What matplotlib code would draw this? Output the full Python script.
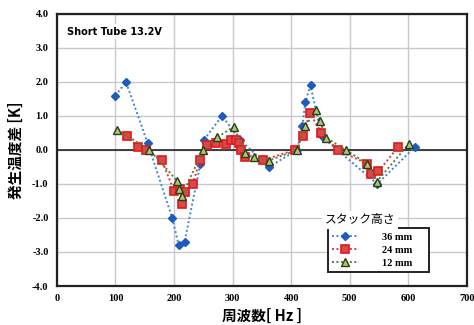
import matplotlib
matplotlib.use("Agg")
import matplotlib.pyplot as plt
import numpy as np

# 36 mm
f36 = [100, 118, 155, 197, 208, 218, 245, 251, 282, 313, 362, 410, 419, 424, 433, 452, 547, 612]
t36 = [1.6, 2.0, 0.2, -2.0, -2.8, -2.7, -0.4, 0.3, 1.0, 0.3, -0.5, 0.0, 0.7, 1.4, 1.9, 0.4, -1.0, 0.1]
# 24 mm
f24 = [119, 138, 153, 179, 200, 210, 214, 219, 232, 244, 256, 272, 288, 297, 305, 311, 315, 322,
       352, 406, 420, 432, 451, 480, 529, 537, 549, 583]
t24 = [0.4, 0.1, 0.0, -0.3, -1.2, -1.15, -1.6, -1.25, -1.0, -0.3, 0.15, 0.22, 0.18, 0.3, 0.3, 0.2, 0.0, -0.2,
       -0.3, 0.0, 0.4, 1.1, 0.5, 0.0, -0.4, -0.7, -0.63, 0.1]
# 12 mm
f12 = [103, 158, 205, 209, 213, 250, 274, 302, 321, 336, 362, 410, 424, 443, 449, 460, 493, 530, 546, 601]
t12 = [0.6, 0.0, -0.9, -1.15, -1.35, 0.0, 0.37, 0.69, -0.1, -0.22, -0.31, 0.0, 0.7, 1.18, 0.86, 0.36, 0.0, -0.4, -0.93, 0.18]

xticks = [0, 100, 200, 300, 400, 500, 600, 700]
yticks = [-4, -3, -2, -1, 0, 1, 2, 3, 4]

fig = plt.figure(figsize=(4.74, 3.25), dpi=100)
ax = fig.add_axes([0.120, 0.12, 0.865, 0.837])

ax.plot(f36, t36, linestyle=(0, (1, 1.3)), color="#3a86d6", lw=1.4, marker="D", ms=4.0,
        mfc="#1f5bbf", mec="#1f5bbf", label="36 mm", zorder=3)
ax.plot(f24, t24, linestyle=(0, (1, 1.3)), color="#e03838", lw=1.4, marker="s", ms=5.2,
        mfc="#d84a4a", mec="#e01a1a", mew=1.2, label="24 mm", zorder=4)
ax.plot(f12, t12, linestyle=(0, (1, 1.3)), color="#5a7a40", lw=1.4, marker="^", ms=5.2,
        mfc="#a8c878", mec="#2e3a18", mew=1.0, label="12 mm", zorder=5)

ax.set_xlim(0, 700)
ax.set_ylim(-4, 4)
ax.set_xticks(xticks)
ax.set_yticks(yticks)
ax.set_yticklabels([f"{v:.1f}" for v in yticks])
ax.grid(True, color="#c8c8d0", lw=1.0)
ax.set_axisbelow(True)
ax.axhline(0, color="#222222", lw=1.2, zorder=2)
for s in ax.spines.values():
    s.set_linewidth(1.6)
    s.set_color("#222222")
ax.tick_params(length=0, pad=6, labelsize=7.5)
for lb in ax.get_xticklabels() + ax.get_yticklabels():
    lb.set_family("Liberation Serif")
    lb.set_weight("bold")

ax.set_xlabel("周波数[ Hz ]", family=["Noto Sans CJK JP", "DejaVu Sans"], fontsize=10.5,
              weight="bold", labelpad=3)
ax.set_ylabel("発生温度差 [K]", family=["Noto Sans CJK JP", "DejaVu Sans"], fontsize=10.5,
              weight="bold", labelpad=6)

ax.text(0.025, 0.935, "Short Tube 13.2V", transform=ax.transAxes, fontsize=7, weight="bold",
        family="DejaVu Sans", va="center", ha="left",
        bbox=dict(facecolor="white", edgecolor="none", pad=2))

leg = ax.legend(loc="lower left", bbox_to_anchor=(0.648, 0.033, 0.272, 0.166), mode="expand",
                prop={"family": "Liberation Serif", "size": 7.5, "weight": "bold"},
                handlelength=2.6, handletextpad=2.2, labelspacing=0.35, borderpad=0.4,
                fancybox=False, framealpha=1)
leg.get_frame().set_edgecolor("#222222")
leg.get_frame().set_linewidth(1.4)
ax.text(0.739, 0.243, "スタック高さ", transform=ax.transAxes, fontsize=8.5,
        family=["Noto Sans CJK JP", "DejaVu Sans"], ha="center", va="center",
        bbox=dict(facecolor="white", edgecolor="none", pad=2), zorder=6)

fig.savefig("out.png", dpi=100)
